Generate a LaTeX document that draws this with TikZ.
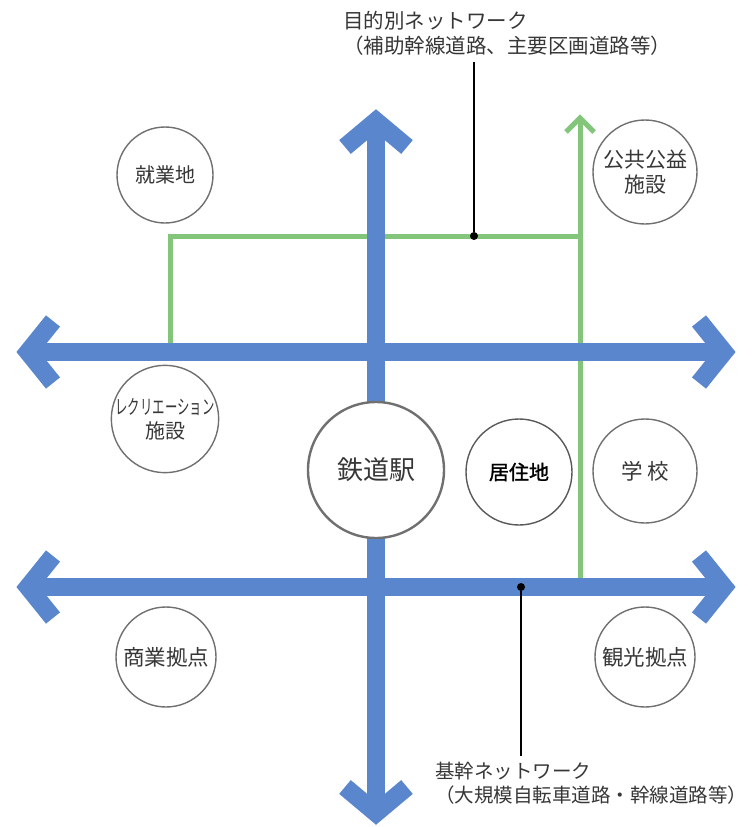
\documentclass[tikz,border=0pt]{standalone}
\usepackage{fontspec}
\setmainfont{Noto Sans CJK JP}
\newfontfamily\boldjp[FakeBold=1.3]{Noto Sans CJK JP}
\usepackage{graphicx}
\definecolor{roadblue}{RGB}{90,134,206}
\definecolor{roadgreen}{RGB}{131,197,122}
\definecolor{ringgray}{RGB}{112,112,112}
\definecolor{txtgray}{RGB}{55,55,55}
\begin{document}
\begin{tikzpicture}[x=1pt,y=-1pt,
  blueroad/.style={draw=roadblue, line width=18pt},
  bluetip/.style={draw=roadblue, line width=18pt, line join=miter, miter limit=10},
  greenroad/.style={draw=roadgreen, line width=5pt},
  greentip/.style={draw=roadgreen, line width=5pt, line join=miter, miter limit=10},
  place/.style={circle, draw=ringgray, line width=1.4pt, fill=white, minimum size=100pt,
    inner sep=0pt, text=txtgray, font=\fontsize{20}{24}\selectfont, align=center},
  bigtext/.style={font=\fontsize{21.5}{25}\selectfont},
  leader/.style={draw=black, line width=1.2pt},
  dotmark/.style={circle, fill=black, inner sep=0pt, minimum size=8pt},
  netlabel/.style={anchor=north west, align=left, text=txtgray,
    font=\fontsize{20.5}{25}\selectfont, inner xsep=0pt, inner ysep=6pt}]
\useasboundingbox (0,0) rectangle (752,827);

% green network
\coordinate (gTip) at (580,118);
\coordinate (gBot) at (580,587);
\coordinate (gCorner) at (580,236);
\coordinate (gLeftTop) at (170,236);
\coordinate (gLeftBot) at (170,352);
\draw[greenroad] (gBot) -- (gTip);
\draw[greenroad] (gLeftBot) -- (gLeftTop) -- (gCorner);
\draw[greentip] (566,132) -- (gTip) -- (594,132);

% blue network
\coordinate (vT) at (376,121);
\coordinate (vB) at (376,813);
\coordinate (h1L) at (28,352);
\coordinate (h1R) at (724,352);
\coordinate (h2L) at (28,587);
\coordinate (h2R) at (724,587);
\draw[blueroad] (vT) -- (vB);
\draw[blueroad] (h1L) -- (h1R);
\draw[blueroad] (h2L) -- (h2R);
\draw[bluetip] (345,147) -- (vT) -- (407,147);
\draw[bluetip] (345,787) -- (vB) -- (407,787);
\draw[bluetip] (53,321) -- (h1L) -- (53,383);
\draw[bluetip] (699,321) -- (h1R) -- (699,383);
\draw[bluetip] (53,556) -- (h2L) -- (53,618);
\draw[bluetip] (699,556) -- (h2R) -- (699,618);

% places
\node[place, minimum size=96pt] (jobs) at (165,175) {就業地};
\node[place, minimum size=104pt, font=\fontsize{21}{25}\selectfont] (public) at (645,172) {公共公益\\施設};
\node[place] (rec) at (165,419) {\scalebox{0.62}[1]{レクリエーション}\\施設};
\node[place, minimum size=136pt, line width=2.4pt, font=\fontsize{26}{30}\selectfont] (station) at (376,470) {鉄道駅};
\node[place, minimum size=106pt, draw=black!65, text=black] (home) at (519,472) {\boldjp 居住地};
\node[place, minimum size=104pt, bigtext] (school) at (645,471) {学 校};
\node[place, bigtext] (commerce) at (166,657) {商業拠点};
\node[place, minimum size=100pt, bigtext] (tourism) at (645,657) {観光拠点};

% labels and leaders
\node[netlabel] (purpose) at (343,5) {目的別ネットワーク\\（補助幹線道路、主要区画道路等）};
\node[netlabel, font=\fontsize{19.5}{24}\selectfont] (trunk) at (435,756) {基幹ネットワーク\\（大規模自転車道路・幹線道路等）};
\node[dotmark] (d1) at (474,236) {};
\node[dotmark] (d2) at (521,587) {};
\draw[leader] (d1) -- (d1 |- purpose.south);
\draw[leader] (d2) -- (d2 |- trunk.north);
\end{tikzpicture}
\end{document}
